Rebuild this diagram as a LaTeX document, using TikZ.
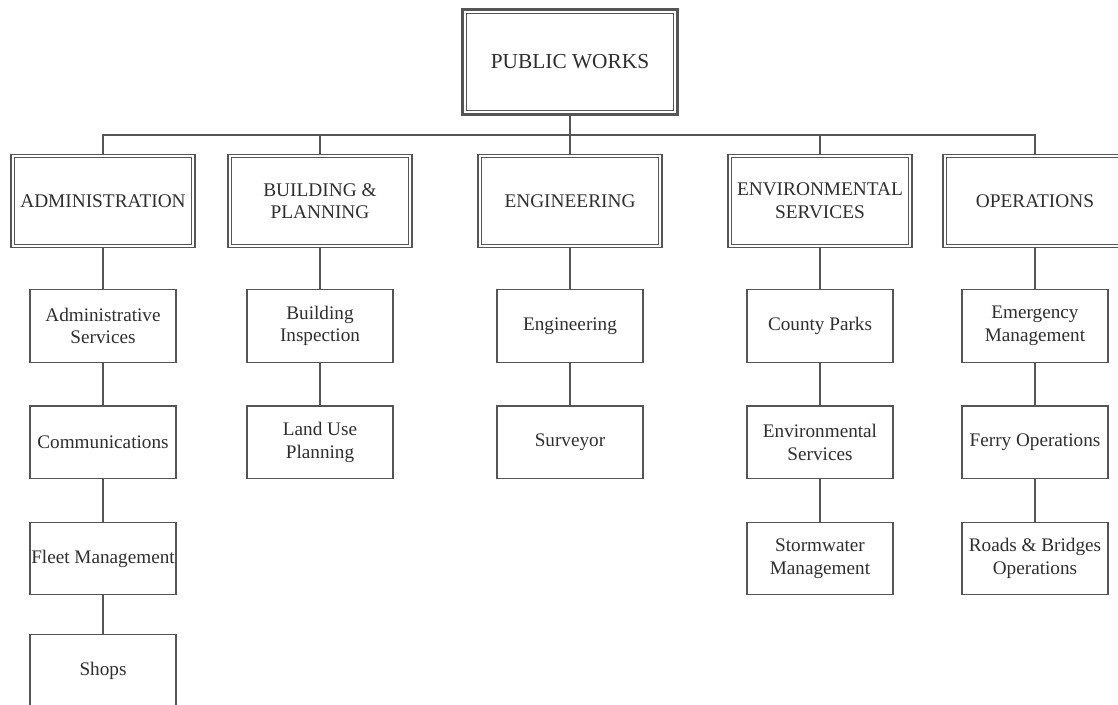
\documentclass[tikz,border=0pt]{standalone}
\usepackage{fontspec}
\setmainfont{Liberation Serif}
\usetikzlibrary{positioning}
\definecolor{linegray}{HTML}{555555}
\definecolor{textgray}{HTML}{2E2E2E}

\begin{document}
\begin{tikzpicture}[x=0.75pt,y=-0.75pt,node distance=31.8pt]
\tikzstyle{every node}=[align=center, text=textgray]
\tikzstyle{head}=[draw=linegray, line width=2.6pt, minimum width=161pt, minimum height=79pt, font=\fontsize{16}{19}\selectfont]
\tikzstyle{dept}=[draw=linegray, double=white, line width=1pt, double distance=1.3pt, minimum width=135.5pt, minimum height=67.5pt, inner sep=0.5pt, font=\fontsize{14.5}{17}\selectfont]
\tikzstyle{unit}=[draw=linegray, line width=0.9pt, minimum width=109.5pt, minimum height=54.5pt, inner sep=0.5pt, font=\fontsize{14.4}{17}\selectfont]
\tikzstyle{link}=[draw=linegray, line width=0.9pt]

\useasboundingbox (0,0) rectangle (1118,704);

\node[head] at (570,62) (PW) {PUBLIC WORKS};
\draw[linegray, line width=0.8pt] ([shift={(4.2pt,-4.2pt)}]PW.north west) rectangle ([shift={(-4.2pt,4.2pt)}]PW.south east);

\node[dept] at (103,201) (ADM) {ADMINISTRATION};
\node[dept] at (320,201) (BLD) {BUILDING \&\\PLANNING};
\node[dept] at (570,201) (ENG) {ENGINEERING};
\node[dept] at (820,201) (ENV) {ENVIRONMENTAL\\SERVICES};
\node[dept] at (1035,201) (OPS) {OPERATIONS};

% administration
\node[unit, below=of ADM] (AS) {Administrative\\Services};
\node[unit, below=of AS] (COM) {Communications};
\node[unit, below=of COM] (FLT) {Fleet Management};
\node[unit, below=29pt of FLT] (SHP) {Shops};

% building & planning
\node[unit, below=of BLD] (BI) {Building\\Inspection};
\node[unit, below=of BI] (LUP) {Land Use\\Planning};

% engineering
\node[unit, below=of ENG] (EN) {Engineering};
\node[unit, below=of EN] (SRV) {Surveyor};

% environmental services
\node[unit, below=of ENV] (CP) {County Parks};
\node[unit, below=of CP] (ES) {Environmental\\Services};
\node[unit, below=of ES] (SWM) {Stormwater\\Management};

% operations
\node[unit, below=of OPS] (EM) {Emergency\\Management};
\node[unit, below=of EM] (FO) {Ferry Operations};
\node[unit, below=of FO] (RB) {Roads \& Bridges\\Operations};

\coordinate (bus) at (570,135);
\draw[link] (PW) -- (bus);
\foreach \d in {ADM,BLD,ENG,ENV,OPS}
  \draw[link] (bus) -| (\d);

\draw[link] (ADM) -- (AS) -- (COM) -- (FLT) -- (SHP);
\draw[link] (BLD) -- (BI) -- (LUP);
\draw[link] (ENG) -- (EN) -- (SRV);
\draw[link] (ENV) -- (CP) -- (ES) -- (SWM);
\draw[link] (OPS) -- (EM) -- (FO) -- (RB);
\end{tikzpicture}
\end{document}
